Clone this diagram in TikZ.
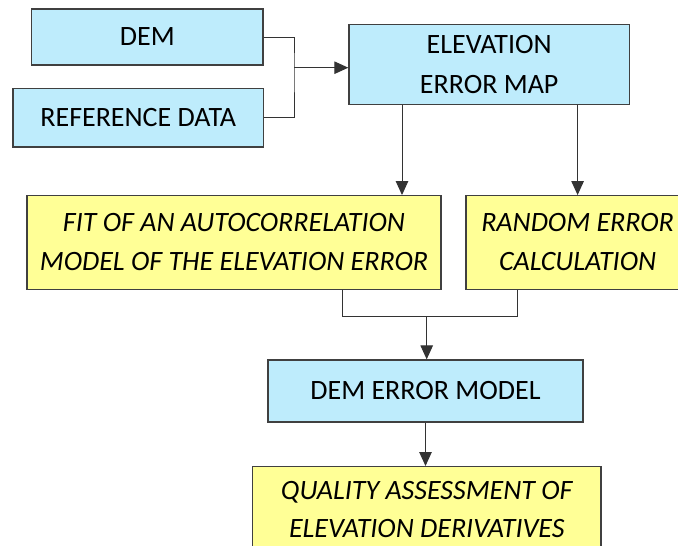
\documentclass[tikz,border=0pt]{standalone}
\usepackage{fontspec}
\setmainfont{Carlito}
\usetikzlibrary{arrows.meta}
\definecolor{boxblue}{RGB}{190,236,252}
\definecolor{boxyellow}{RGB}{255,255,150}
\definecolor{edgegray}{RGB}{64,64,64}
\begin{document}
\begin{tikzpicture}[x=1pt,y=-1pt,
  bluebox/.style={draw=edgegray, line width=1.3pt, fill=boxblue, rectangle, inner sep=0pt, align=center, font=\fontsize{28}{40}\selectfont},
  yellowbox/.style={draw=edgegray, line width=1.3pt, fill=boxyellow, rectangle, inner sep=0pt, align=center, font=\fontsize{28}{39}\selectfont\itshape},
  conn/.style={draw=black!80, line width=1pt},
  arrow/.style={conn, -{Triangle[length=14pt,width=12.5pt]}}]
\useasboundingbox (0,0) rectangle (678,546);
\fill[white] (0,0) rectangle (678,546);
\node[bluebox, minimum width=231.4pt, minimum height=56pt] (dem) at (147.3,37) {DEM};
\node[bluebox, minimum width=250.7pt, minimum height=58.7pt] (ref) at (138.3,117.7) {REFERENCE DATA};
\node[bluebox, minimum width=280.5pt, minimum height=80pt] (elev) at (489.2,64.3) {ELEVATION\\ERROR MAP};
\node[yellowbox, minimum width=414pt, minimum height=93.6pt] (fit) at (234,242.5) {FIT OF AN AUTOCORRELATION\\MODEL OF THE ELEVATION ERROR};
\node[yellowbox, minimum width=223pt, minimum height=93.6pt] (rand) at (577.6,242.5) {RANDOM ERROR\\CALCULATION};
\node[bluebox, minimum width=315pt, minimum height=62pt] (dem2) at (425.5,391) {DEM ERROR MODEL};
\node[yellowbox, minimum width=348.3pt, minimum height=86pt, anchor=north, font=\fontsize{28}{38}\selectfont\itshape] (qual) at (426.8,466) {QUALITY ASSESSMENT OF\\ELEVATION DERIVATIVES};
% top merge
\coordinate (j) at (294,67.7);
\draw[conn] (dem.east) -| (j) |- (ref.east);
\draw[arrow] (j) -- (j -| elev.west);
% elevation map to the two yellow boxes
\coordinate (a1) at (402,104.3);
\coordinate (a2) at (577.6,104.3);
\draw[arrow] (a1 |- elev.south) -- (a1 |- fit.north);
\draw[arrow] (a2 |- elev.south) -- (a2 |- rand.north);
% merge of the yellow boxes
\coordinate (fx) at (342.4,316.7);
\coordinate (rx) at (517.6,316.7);
\coordinate (mx) at (426.7,316.7);
\draw[conn] (fx |- fit.south) -- (fx) -- (rx) -- (rx |- rand.south);
\draw[arrow] (mx) -- (mx |- dem2.north);
\draw[arrow] (dem2.south) -- (dem2.south |- qual.north);
\end{tikzpicture}
\end{document}
